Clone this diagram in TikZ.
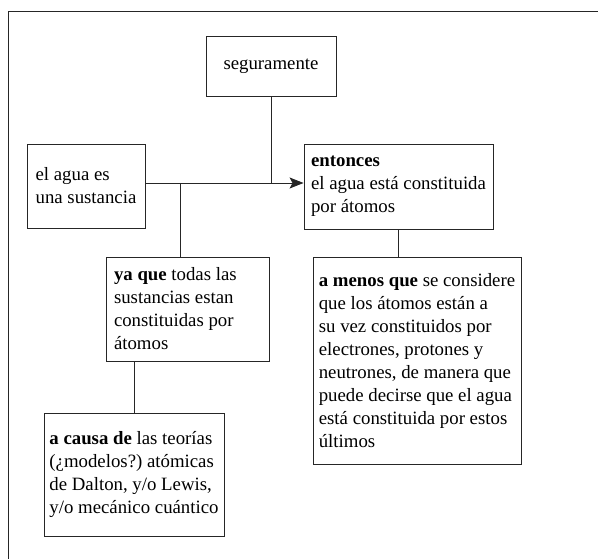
\documentclass[tikz,border=0pt]{standalone}
\usepackage{fontspec}
\setmainfont{Liberation Serif}
\usepackage{tikz}
\usetikzlibrary{positioning,arrows.meta,calc}
\frenchspacing

\begin{document}
\begin{tikzpicture}[
x=1pt,y=-1pt,
cuadro/.style={
  draw=black!85,
  rectangle,
  line width=0.9pt,
  inner xsep=5pt,
  inner ysep=4pt,
  align=flush left,
  font=\fontsize{18.8}{23}\selectfont
  },
linea/.style={
  draw=black!85,
  line width=0.9pt
  },
>={Stealth[length=14pt,width=11pt,inset=3pt]}
]
\useasboundingbox (0,0) rectangle (598,559);
% marco
\draw[linea] (8,559) -- (8,11) -- (598,11);
\node[cuadro,align=center,minimum width=130pt,minimum height=60pt] (seg) at (271,66) {seguramente};
\node[cuadro,minimum width=118pt,minimum height=84pt] (sust) at (86,186) {el agua es\\una sustancia};
\node[cuadro,minimum width=189pt,minimum height=85pt] (ent) at (398.5,186.5)
  {\textbf{entonces}\\el agua está constituida\\por átomos};
\node[cuadro,inner xsep=8pt,text width=147pt,minimum height=104pt] (ya) at (187.5,309)
  {\textbf{ya que} todas las\\sustancias estan\\constituidas por\\átomos};
\node[cuadro,minimum width=208pt,minimum height=207pt] (menos) at (417,360.5)
  {\textbf{a menos que} se considere\\que los átomos están a\\su vez constituidos por\\electrones, protones y\\neutrones, de manera que\\puede decirse que el agua\\está constituida por estos\\últimos};
\node[cuadro,minimum width=180pt,minimum height=123pt] (causa) at (134,474.5)
  {\textbf{a causa de} las teorías\\(¿modelos?) atómicas\\de Dalton, y/o Lewis,\\y/o mecánico cuántico};
% conexiones
\coordinate (ramal) at (180,183);
\draw[linea,->] (sust.east |- ramal) -- (ent.west |- ramal);
\draw[linea] (seg.south) -- (seg.south |- ramal);
\draw[linea] (ramal) -- (ramal |- ya.north);
\draw[linea] (ent.south) -- (ent.south |- menos.north);
\draw[linea] (causa.north) -- (causa.north |- ya.south);
\end{tikzpicture}
\end{document}
